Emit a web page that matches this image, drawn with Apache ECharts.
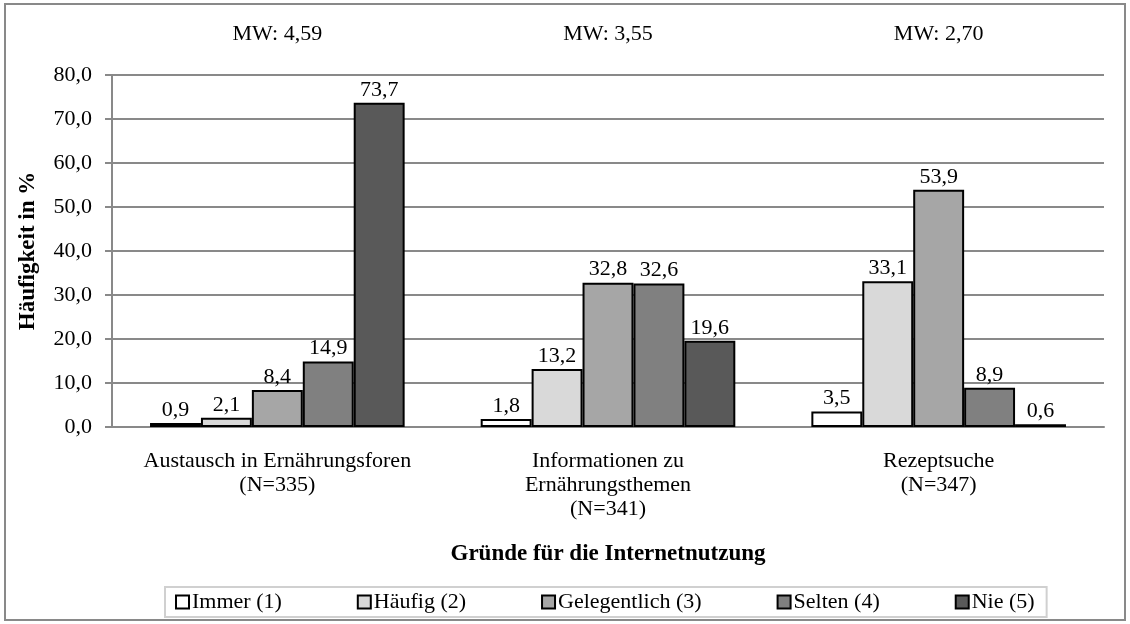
<!DOCTYPE html>
<html>
<head>
<meta charset="utf-8">
<script src="https://cdn.jsdelivr.net/npm/echarts@6/dist/echarts.min.js"></script>
<style>
  html, body { margin: 0; padding: 0; background: #fff; }
  #chart { width: 1130px; height: 624px; }
</style>
</head>
<body>
<div id="chart"></div>
<script>
const categories = [
  'Austausch in Ernährungsforen\n(N=335)',
  'Informationen zu\nErnährungsthemen\n(N=341)',
  'Rezeptsuche\n(N=347)'
];
const meanLabels = ['MW: 4,59', 'MW: 3,55', 'MW: 2,70'];
const seriesNames = ['Immer (1)', 'Häufig (2)', 'Gelegentlich (3)', 'Selten (4)', 'Nie (5)'];
const immer = [0.9, 1.8, 3.5];
const haeufig = [2.1, 13.2, 33.1];
const gelegentlich = [8.4, 32.8, 53.9];
const selten = [14.9, 32.6, 8.9];
const nie = [73.7, 19.6, 0.6];
const colors = ['#ffffff', '#d9d9d9', '#a6a6a6', '#808080', '#595959'];

const font = 'Liberation Serif, Times New Roman, serif';
const fmt = (v) => v.toFixed(1).replace('.', ',');

const chart = echarts.init(document.getElementById('chart'));

const dataSets = [immer, haeufig, gelegentlich, selten, nie];

const option = {
  animation: false,
  textStyle: { fontFamily: font },
  graphic: [{
    type: 'rect',
    shape: { x: 5, y: 4, width: 1120, height: 616 },
    style: { fill: 'none', stroke: '#898989', lineWidth: 2 },
    silent: true
  }],
  grid: { left: 112, right: 26, top: 75, bottom: 197 },
  legend: {
    data: seriesNames,
    bottom: 7,
    left: 165,
    itemWidth: 13,
    itemHeight: 13,
    itemGap: 75,
    padding: [4, 12, 4, 10],
    borderColor: '#d0d0d0',
    borderWidth: 2,
    textStyle: { fontFamily: font, fontSize: 22, color: '#000', padding: [0, 0, 0, -2] },
    icon: 'rect'
  },
  xAxis: [{
    type: 'category',
    data: categories,
    name: 'Gründe für die Internetnutzung',
    nameLocation: 'middle',
    nameGap: 116,
    nameTextStyle: { fontFamily: font, fontSize: 23, fontWeight: 'bold', color: '#000' },
    axisLine: { lineStyle: { color: '#898989', width: 2 } },
    axisTick: { length: 8, lineStyle: { color: '#898989', width: 2 } },
    axisLabel: { interval: 0, fontFamily: font, fontSize: 22, color: '#000', margin: 22, lineHeight: 24 }
  }, {
    type: 'category',
    position: 'top',
    data: meanLabels,
    axisLine: { show: false },
    axisTick: { show: false },
    axisLabel: { interval: 0, fontFamily: font, fontSize: 22, color: '#000', margin: 30 }
  }],
  yAxis: {
    type: 'value',
    min: 0,
    max: 80,
    interval: 10,
    name: 'Häufigkeit in %',
    nameLocation: 'middle',
    nameGap: 72,
    nameTextStyle: { fontFamily: font, fontSize: 23, fontWeight: 'bold', color: '#000' },
    axisLine: { show: true, lineStyle: { color: '#898989', width: 2 } },
    axisTick: { show: true, length: 7, lineStyle: { color: '#898989', width: 2 } },
    splitLine: { lineStyle: { color: '#898989', width: 2 } },
    axisLabel: { fontFamily: font, fontSize: 22, color: '#000', margin: 20, formatter: (v) => fmt(v) }
  },
  series: dataSets.map((d, i) => ({
    name: seriesNames[i],
    type: 'bar',
    data: d,
    barGap: '0%',
    barCategoryGap: '23%',
    itemStyle: { color: colors[i], borderColor: '#000', borderWidth: 2 },
    label: {
      show: true,
      position: 'top',
      distance: 2,
      fontFamily: font,
      fontSize: 22,
      color: '#000',
      formatter: (p) => fmt(p.value)
    }
  }))
};

chart.setOption(option);
</script>
</body>
</html>
